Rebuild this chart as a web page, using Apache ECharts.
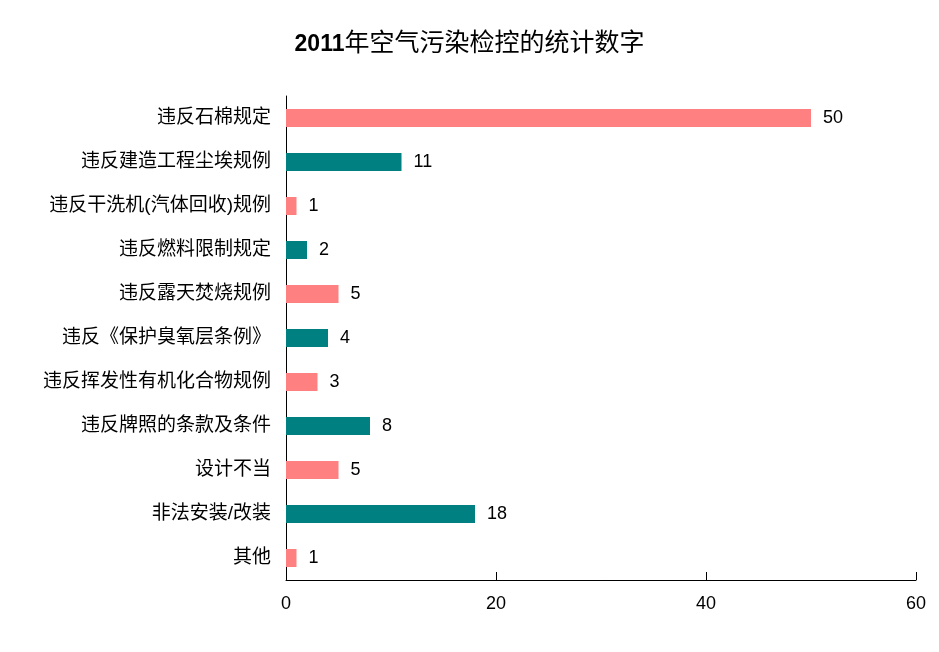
<!DOCTYPE html>
<html><head><meta charset="utf-8">
<script src="https://cdn.jsdelivr.net/npm/echarts@6/dist/echarts.min.js"></script>
<style>html,body{margin:0;padding:0;background:#fff}#c{width:939px;height:652px}</style>
</head><body><div id="c"></div>
<script>
const titleYear = '2011';
const titleText = '年空气污染检控的统计数字';
const categories = ['违反石棉规定','违反建造工程尘埃规例','违反干洗机(汽体回收)规例','违反燃料限制规定','违反露天焚烧规例','违反《保护臭氧层条例》','违反挥发性有机化合物规例','违反牌照的条款及条件','设计不当','非法安装/改装','其他'];
const values = [50, 11, 1, 2, 5, 4, 3, 8, 5, 18, 1];
const xTicks = [0, 20, 40, 60];
const colors = ['#FF8080', '#008080'];
const font = '"Liberation Sans", "Noto Sans CJK SC", sans-serif';

const chart = echarts.init(document.getElementById('c'));
chart.setOption({
  animation: false,
  backgroundColor: '#fff',
  title: {
    text: '{a|' + titleYear + '}{b|' + titleText + '}',
    left: 'center', top: 27,
    textStyle: {
      rich: {
        a: { fontFamily: font, fontSize: 23, fontWeight: 'bold', color: '#000' },
        b: { fontFamily: font, fontSize: 25, fontWeight: 'normal', color: '#000' }
      }
    }
  },
  grid: { left: 286, right: 23, top: 96, bottom: 72, containLabel: false },
  xAxis: {
    type: 'value', min: xTicks[0], max: xTicks[xTicks.length - 1], interval: 20,
    axisLine: { show: true, lineStyle: { color: '#000', width: 1 } },
    axisTick: { show: true, inside: true, length: 8, lineStyle: { color: '#000' } },
    splitLine: { show: false },
    axisLabel: { fontFamily: font, fontSize: 18, color: '#000', margin: 15 }
  },
  yAxis: {
    type: 'category', data: categories, inverse: true,
    axisLine: { show: true, lineStyle: { color: '#000', width: 1 } },
    axisTick: { show: false },
    axisLabel: { fontFamily: font, fontSize: 19, color: '#000', margin: 15 }
  },
  series: [{
    type: 'bar', data: values, barWidth: 18,
    itemStyle: { color: p => colors[p.dataIndex % 2] },
    label: { show: true, position: 'right', distance: 12, fontFamily: font, fontSize: 18, color: '#000' }
  }]
});
</script></body></html>
